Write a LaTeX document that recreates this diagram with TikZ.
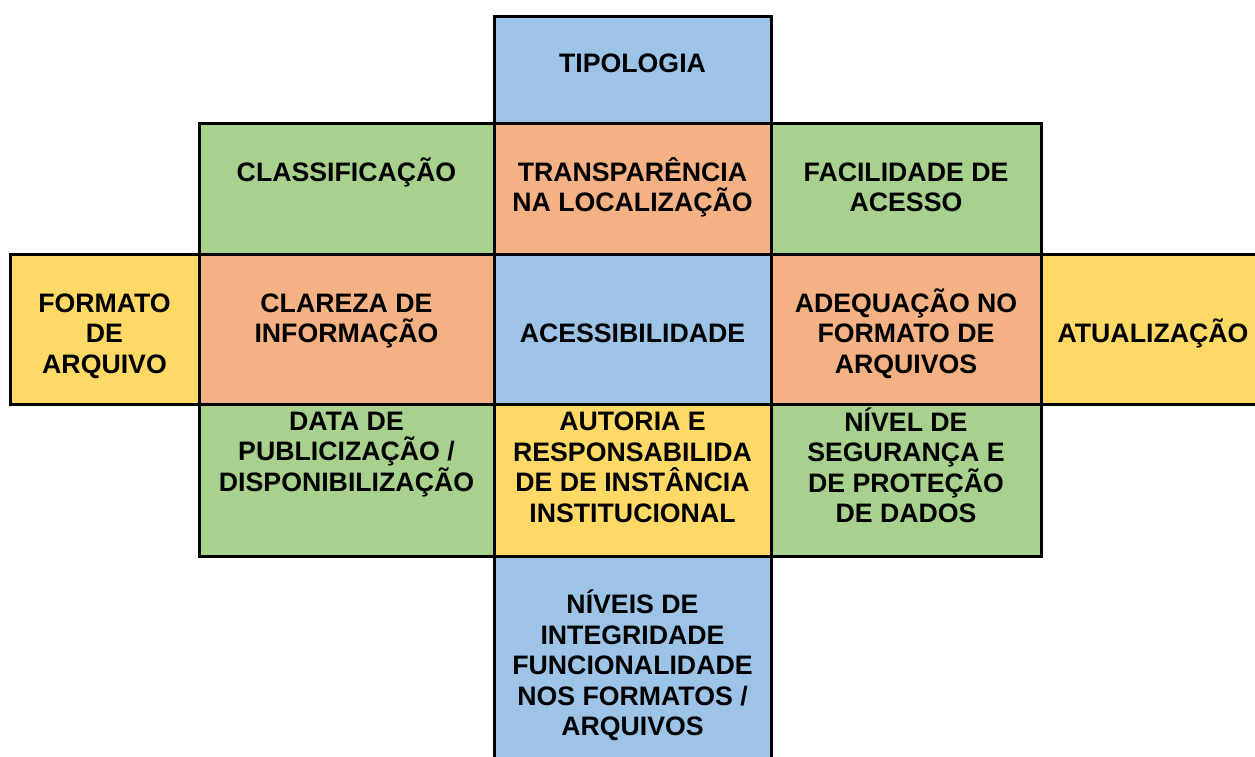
\documentclass[tikz,border=0pt]{standalone}
\usepackage{fontspec}
\setmainfont{Liberation Sans}
\definecolor{cellblue}{HTML}{9DC3E6}
\definecolor{cellorange}{HTML}{F4B183}
\definecolor{cellgreen}{HTML}{A9D18E}
\definecolor{cellyellow}{HTML}{FFD966}
\tikzset{
  cell/.style={draw=black, line width=3pt},
  txt/.style={font=\bfseries\fontsize{26.7}{30.5}\selectfont, align=center, inner sep=0pt}
}
\begin{document}
\begin{tikzpicture}[x=1pt, y=-1pt]
  \useasboundingbox (0,0) rectangle (1255,756);
  \clip (0,0) rectangle (1255,756);
  % top and bottom column
  \draw[cell, fill=cellblue] (494,16) rectangle (771,123);
  \draw[cell, fill=cellblue] (494,556) rectangle (771,780);
  % second row
  \draw[cell, fill=cellgreen] (199,123) rectangle (494,254);
  \draw[cell, fill=cellorange] (494,123) rectangle (771,254);
  \draw[cell, fill=cellgreen] (771,123) rectangle (1041,254);
  % middle row
  \draw[cell, fill=cellyellow] (10,254) rectangle (199,404);
  \draw[cell, fill=cellorange] (199,254) rectangle (494,404);
  \draw[cell, fill=cellblue] (494,254) rectangle (771,404);
  \draw[cell, fill=cellorange] (771,254) rectangle (1041,404);
  \draw[cell, fill=cellyellow] (1041,254) rectangle (1280,404);
  % fourth row
  \draw[cell, fill=cellgreen] (199,404) rectangle (494,556);
  \draw[cell, fill=cellyellow] (494,404) rectangle (771,556);
  \draw[cell, fill=cellgreen] (771,404) rectangle (1041,556);

  \node[txt] (tipologia) at (632.5,63) {TIPOLOGIA};
  \node[txt] (classificacao) at (346.5,172) {CLASSIFICAÇÃO};
  \node[txt] (transparencia) at (632.5,187.5) {TRANSPARÊNCIA\\NA LOCALIZAÇÃO};
  \node[txt] (facilidade) at (906,187.5) {FACILIDADE DE\\ACESSO};
  \node[txt] (formato) at (104.5,336) {FORMATO\\DE\\ARQUIVO};
  \node[txt] (clareza) at (346.5,321) {CLAREZA DE\\INFORMAÇÃO};
  \node[txt] (acessibilidade) at (632.5,333.5) {ACESSIBILIDADE};
  \node[txt] (adequacao) at (906,333.5) {ADEQUAÇÃO NO\\FORMATO DE\\ARQUIVOS};
  \node[txt] (atualizacao) at (1153,333.5) {ATUALIZAÇÃO};
  \node[txt] (data) at (346.5,454.5) {DATA DE\\PUBLICIZAÇÃO /\\DISPONIBILIZAÇÃO};
  \node[txt] (autoria) at (632.5,467.5) {AUTORIA E\\RESPONSABILIDA\\DE DE INSTÂNCIA\\INSTITUCIONAL};
  \node[txt] (seguranca) at (906,465.5) {NÍVEL DE\\SEGURANÇA E\\DE PROTEÇÃO\\DE DADOS};
  \node[txt] (integridade) at (632.5,665.5) {NÍVEIS DE\\INTEGRIDADE\\FUNCIONALIDADE\\NOS FORMATOS /\\ARQUIVOS};
\end{tikzpicture}
\end{document}
